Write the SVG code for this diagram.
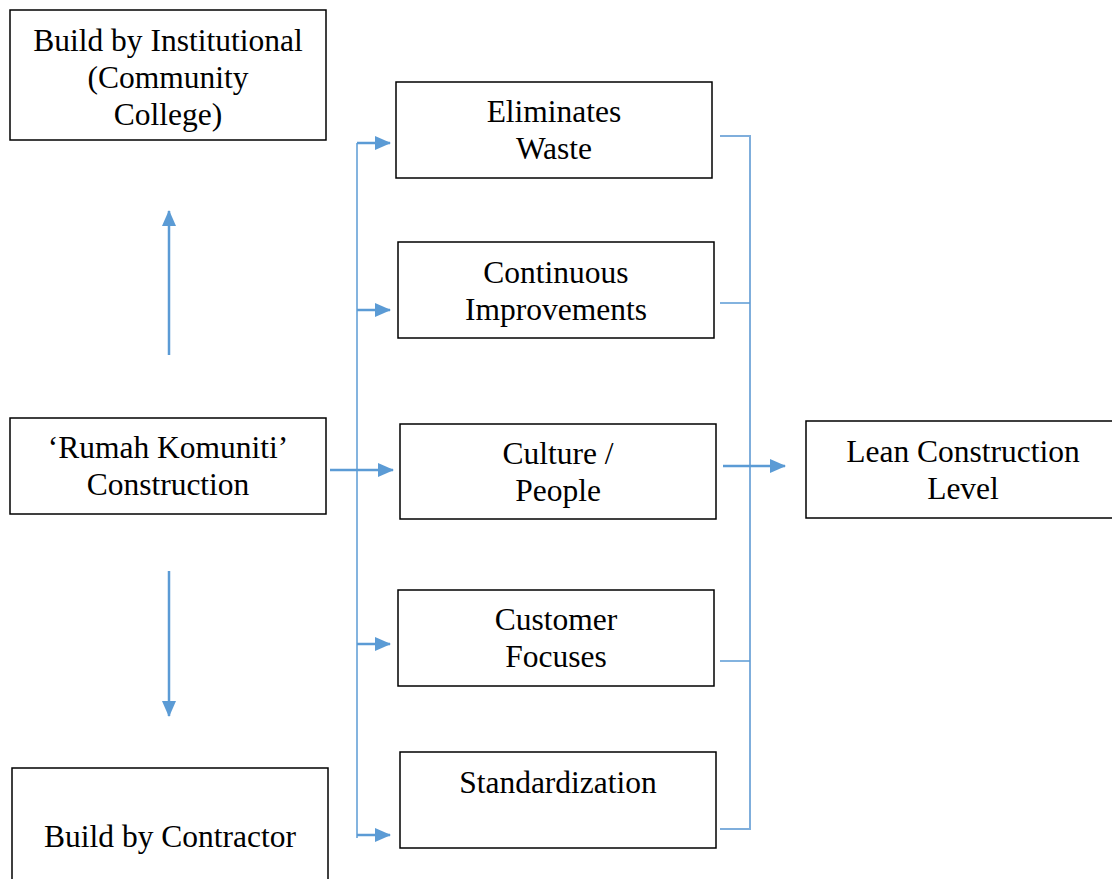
<svg xmlns="http://www.w3.org/2000/svg" width="1112" height="879" viewBox="0 0 1112 879">
<style>
.box{fill:#fff;stroke:#000;stroke-width:1.5}
text{font-family:"Liberation Serif","Times New Roman",serif;font-size:31.5px;fill:#000;text-anchor:middle}
.ln{fill:none;stroke:#5B9BD5;stroke-width:1.5}
.ar{fill:none;stroke:#5B9BD5;stroke-width:2.5}
.rl{fill:none;stroke:#7FAEDC;stroke-width:2}
</style>
<defs>
<marker id="ah" viewBox="0 0 16 14" refX="15" refY="7" markerWidth="16" markerHeight="14" orient="auto" markerUnits="userSpaceOnUse">
<path d="M0,0L16,7L0,14z" fill="#5B9BD5"/>
</marker>
</defs>
<rect width="1112" height="879" fill="#fff"/>
<g id="n1"><rect class="box" x="10" y="10" width="316" height="130"/><text x="168" y="51">Build by Institutional</text><text x="168" y="88">(Community</text><text x="168" y="125">College)</text></g>
<g id="n2"><rect class="box" x="396" y="82" width="316" height="96"/><text x="554" y="122">Eliminates</text><text x="554" y="159">Waste</text></g>
<g id="n3"><rect class="box" x="398" y="242" width="316" height="96"/><text x="556" y="283">Continuous</text><text x="556" y="320">Improvements</text></g>
<g id="n4"><rect class="box" x="400" y="424" width="316" height="95"/><text x="558" y="464">Culture /</text><text x="558" y="501">People</text></g>
<g id="n5"><rect class="box" x="398" y="590" width="316" height="96"/><text x="556" y="630">Customer</text><text x="556" y="667">Focuses</text></g>
<g id="n6"><rect class="box" x="400" y="752" width="316" height="96"/><text x="558" y="793">Standardization</text></g>
<g id="n7"><rect class="box" x="10" y="418" width="316" height="96"/><text x="168" y="458">‘Rumah Komuniti’</text><text x="168" y="495">Construction</text></g>
<g id="n8"><rect class="box" x="12" y="768" width="316" height="120"/><text x="170" y="847">Build by Contractor</text></g>
<g id="n9"><rect class="box" x="806" y="421" width="310" height="97"/><text x="963" y="462">Lean Construction</text><text x="963" y="499">Level</text></g>
<g id="connectors">
<path class="ln" d="M357,143V838"/>
<path class="ar" d="M357,143H390" marker-end="url(#ah)"/>
<path class="ar" d="M357,310H390" marker-end="url(#ah)"/>
<path class="ar" d="M357,644H390" marker-end="url(#ah)"/>
<path class="ar" d="M357,835H390" marker-end="url(#ah)"/>
<path class="ar" d="M330,470H393" marker-end="url(#ah)"/>
<path class="rl" d="M720,136H750V829H720"/>
<path class="ln" d="M720,303H750M720,661H750"/>
<path class="ar" d="M723,466H785" marker-end="url(#ah)"/>
<path class="ar" d="M169,355V211" marker-end="url(#ah)"/>
<path class="ar" d="M169,571V716" marker-end="url(#ah)"/>
</g>
</svg>
